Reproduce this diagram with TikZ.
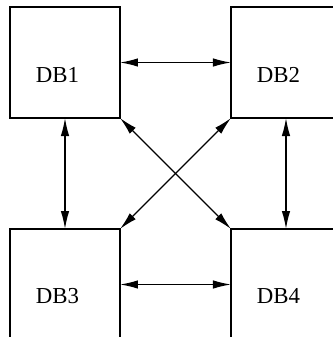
\documentclass[tikz,border=0pt]{standalone}
\usepackage{fontspec}
\setmainfont{Liberation Serif}
\usetikzlibrary{positioning,arrows.meta}
\tikzset{
  dbbox/.style ={rectangle, draw=black, line width=0.8pt, inner sep=0pt,
                 outer sep=0pt, minimum width=2.2cm, minimum height=2.22cm},
  lbl/.style   ={inner sep=0pt, font=\fontsize{13}{15}\selectfont},
  arr/.style   ={{Latex[length=3.6mm,width=1.7mm]}-{Latex[length=3.6mm,width=1.7mm]},
                 line width=0.75pt, draw=black},
}
\begin{document}
\begin{tikzpicture}[node distance=2.22cm and 2.22cm]
  \useasboundingbox (0,0) rectangle (6.66,-6.74);
  \clip (0,0) rectangle (6.66,-6.74);
  \node[dbbox] (DB1) at (1.30,-1.25) {};
  \node[dbbox, right=of DB1] (DB2) {};
  \node[dbbox, below=of DB1] (DB3) {};
  \node[dbbox, right=of DB3] (DB4) {};

  \foreach \n in {DB1,DB2,DB3,DB4}{\node[lbl] (t\n) at ([xshift=-1.5mm,yshift=-2.4mm]\n.center) {\n};}

  \draw[arr] (DB1.east) -- (DB2.west);
  \draw[arr] (DB3.east) -- (DB4.west);
  \draw[arr] (DB1.south) -- (DB3.north);
  \draw[arr] (DB2.south) -- (DB4.north);
  \draw[arr] (DB1.south east) -- (DB4.north west);
  \draw[arr] (DB2.south west) -- (DB3.north east);
\end{tikzpicture}
\end{document}
